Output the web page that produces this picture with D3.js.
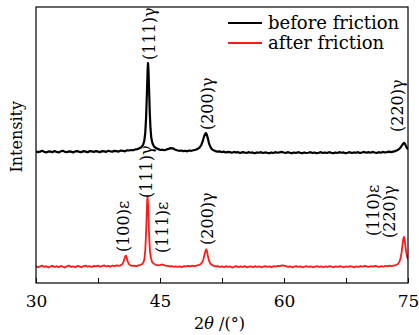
<!DOCTYPE html>
<html>
<head>
<meta charset="utf-8">
<script src="https://cdn.jsdelivr.net/npm/d3@7"></script>
<style>
  body { margin: 0; background: #fff; }
  text { font-family: "DejaVu Serif", serif; fill: #000; }
</style>
</head>
<body>
<div id="xrd-chart"></div>
<script>
// XRD patterns, [2theta, intensity (a.u., stacked)]
const beforeFriction = [
  [30.00, 477], [30.25, 474], [30.50, 476], [30.75, 479], [31.00, 475], [31.25, 473], [31.50, 477], [31.75, 476],
  [32.00, 474], [32.25, 478], [32.50, 475], [32.75, 473], [33.00, 477], [33.25, 479], [33.50, 475], [33.75, 474],
  [34.00, 477], [34.25, 476], [34.50, 473], [34.75, 477], [35.00, 478], [35.25, 475], [35.50, 474], [35.75, 478],
  [36.00, 476], [36.25, 474], [36.50, 478], [36.75, 477], [37.00, 475], [37.25, 478], [37.50, 476], [37.75, 474],
  [38.00, 478], [38.25, 477], [38.50, 475], [38.75, 479], [39.00, 477], [39.25, 476], [39.50, 479], [39.75, 478],
  [40.00, 476], [40.25, 480], [40.50, 479], [40.75, 477], [41.00, 481], [41.25, 480], [41.50, 482], [41.75, 481],
  [42.00, 484], [42.25, 485], [42.50, 488], [42.75, 492], [42.95, 500], [43.10, 515], [43.22, 545], [43.32, 600],
  [43.42, 690], [43.50, 770], [43.55, 797], [43.60, 775], [43.68, 700], [43.76, 620], [43.85, 560], [43.95, 525],
  [44.10, 505], [44.30, 494], [44.55, 488], [44.80, 485], [45.05, 482], [45.30, 483], [45.55, 481], [45.80, 484],
  [46.05, 486], [46.30, 489], [46.55, 488], [46.80, 484], [47.05, 481], [47.30, 479], [47.55, 480], [47.80, 478],
  [48.05, 479], [48.30, 477], [48.55, 480], [48.80, 479], [49.05, 481], [49.30, 483], [49.55, 486], [49.80, 491],
  [50.00, 500], [50.15, 512], [50.30, 528], [50.45, 540], [50.55, 543], [50.65, 539], [50.78, 525], [50.92, 507],
  [51.08, 494], [51.25, 486], [51.45, 481], [51.70, 478], [51.95, 476], [52.20, 477], [52.45, 474], [52.70, 476],
  [52.95, 473], [53.20, 475], [53.45, 474], [53.70, 472], [53.95, 475], [54.20, 473], [54.45, 474], [54.70, 471],
  [54.95, 474], [55.20, 473], [55.45, 471], [55.70, 474], [55.95, 472], [56.20, 473], [56.45, 470], [56.70, 473],
  [56.95, 472], [57.20, 474], [57.45, 471], [57.70, 473], [57.95, 472], [58.20, 470], [58.45, 473], [58.70, 471],
  [58.95, 474], [59.20, 472], [59.45, 473], [59.70, 475], [59.95, 473], [60.20, 471], [60.45, 474], [60.70, 472],
  [60.95, 470], [61.20, 473], [61.45, 471], [61.70, 474], [61.95, 472], [62.20, 470], [62.45, 473], [62.70, 471],
  [62.95, 472], [63.20, 474], [63.45, 471], [63.70, 473], [63.95, 470], [64.20, 472], [64.45, 474], [64.70, 471],
  [64.95, 473], [65.20, 471], [65.45, 474], [65.70, 472], [65.95, 470], [66.20, 473], [66.45, 471], [66.70, 474],
  [66.95, 472], [67.20, 473], [67.45, 470], [67.70, 472], [67.95, 474], [68.20, 471], [68.45, 473], [68.70, 472],
  [68.95, 474], [69.20, 471], [69.45, 473], [69.70, 475], [69.95, 472], [70.20, 474], [70.45, 472], [70.70, 475],
  [70.95, 473], [71.20, 471], [71.45, 474], [71.70, 472], [71.95, 475], [72.20, 473], [72.45, 474], [72.70, 476],
  [72.95, 474], [73.20, 476], [73.45, 478], [73.70, 481], [73.95, 486], [74.15, 493], [74.30, 500], [74.45, 506],
  [74.55, 508], [74.65, 503], [74.78, 494], [74.90, 488], [75.00, 485]
];

const afterFriction = [
  [30.00, 61], [30.25, 57], [30.50, 60], [30.75, 63], [31.00, 58], [31.25, 61], [31.50, 56], [31.75, 60],
  [32.00, 62], [32.25, 58], [32.50, 61], [32.75, 57], [33.00, 62], [33.25, 59], [33.50, 56], [33.75, 61],
  [34.00, 63], [34.25, 58], [34.50, 60], [34.75, 57], [35.00, 62], [35.25, 60], [35.50, 57], [35.75, 61],
  [36.00, 63], [36.25, 59], [36.50, 61], [36.75, 58], [37.00, 62], [37.25, 60], [37.50, 63], [37.75, 59],
  [38.00, 61], [38.25, 64], [38.50, 60], [38.75, 62], [39.00, 59], [39.25, 63], [39.50, 61], [39.75, 64],
  [40.00, 62], [40.20, 64], [40.40, 67], [40.55, 74], [40.68, 86], [40.80, 97], [40.88, 99], [40.97, 92],
  [41.08, 79], [41.22, 69], [41.40, 64], [41.65, 62], [41.90, 63], [42.15, 61], [42.40, 64], [42.65, 66],
  [42.85, 69], [43.00, 75], [43.12, 88], [43.22, 120], [43.30, 170], [43.38, 240], [43.45, 300], [43.50, 312],
  [43.56, 285], [43.63, 220], [43.71, 155], [43.80, 112], [43.92, 88], [44.05, 76], [44.25, 70], [44.50, 66],
  [44.75, 64], [45.00, 65], [45.20, 67], [45.40, 66], [45.65, 63], [45.90, 62], [46.15, 60], [46.40, 61],
  [46.65, 59], [46.90, 60], [47.15, 58], [47.40, 60], [47.65, 57], [47.90, 61], [48.15, 60], [48.40, 62],
  [48.65, 60], [48.90, 63], [49.15, 61], [49.40, 63], [49.65, 65], [49.90, 68], [50.10, 75], [50.25, 86],
  [50.40, 104], [50.52, 118], [50.60, 122], [50.68, 116], [50.78, 100], [50.90, 84], [51.05, 72], [51.25, 66],
  [51.50, 62], [51.75, 60], [52.00, 61], [52.25, 58], [52.50, 60], [52.75, 57], [53.00, 61], [53.25, 58],
  [53.50, 60], [53.75, 56], [54.00, 59], [54.25, 61], [54.50, 57], [54.75, 60], [55.00, 58], [55.25, 61],
  [55.50, 57], [55.75, 59], [56.00, 60], [56.25, 57], [56.50, 61], [56.75, 58], [57.00, 60], [57.25, 57],
  [57.50, 59], [57.75, 61], [58.00, 58], [58.25, 60], [58.50, 57], [58.75, 61], [59.00, 59], [59.25, 62],
  [59.50, 61], [59.75, 64], [60.00, 63], [60.25, 61], [60.50, 58], [60.75, 60], [61.00, 57], [61.25, 59],
  [61.50, 61], [61.75, 58], [62.00, 60], [62.25, 57], [62.50, 59], [62.75, 61], [63.00, 58], [63.25, 60],
  [63.50, 57], [63.75, 59], [64.00, 61], [64.25, 58], [64.50, 60], [64.75, 57], [65.00, 60], [65.25, 58],
  [65.50, 61], [65.75, 59], [66.00, 57], [66.25, 60], [66.50, 58], [66.75, 61], [67.00, 59], [67.25, 57],
  [67.50, 60], [67.75, 58], [68.00, 61], [68.25, 59], [68.50, 57], [68.75, 60], [69.00, 58], [69.25, 61],
  [69.50, 59], [69.75, 62], [70.00, 60], [70.25, 58], [70.50, 61], [70.75, 59], [71.00, 62], [71.25, 60],
  [71.50, 58], [71.75, 61], [72.00, 59], [72.25, 62], [72.50, 60], [72.75, 63], [73.00, 61], [73.25, 63],
  [73.50, 65], [73.75, 68], [73.95, 76], [74.10, 90], [74.22, 110], [74.32, 135], [74.42, 158], [74.50, 167],
  [74.58, 160], [74.68, 135], [74.80, 108], [74.92, 92], [75.00, 86]
];

// peak labels: [text, 2theta, intensity at label foot]
const beforePeaks = [
  ["(111)\u03b3", 43.67, 808],
  ["(200)\u03b3", 50.69, 554],
  ["(220)\u03b3", 73.67, 547]
];
const afterPeaks = [
  ["(100)\u03b5", 40.52, 112],
  ["(111)\u03b3", 43.31, 308],
  ["(111)\u03b5", 45.24, 109],
  ["(200)\u03b3", 50.69, 138],
  ["(110)\u03b5", 70.77, 170],
  ["(220)\u03b3", 72.70, 163]
];

const seriesNames = ["before friction", "after friction"];
const seriesColors = ["#000000", "#ff1a1a"];
const majorTicks = [30, 45, 60, 75];
const minorTicks = [37.5, 52.5, 67.5];

(() => {
    const width = 419;
    const height = 335;
    const margin = { top: 7, right: 11, bottom: 52, left: 36 };

    const svg = d3.select("#xrd-chart")
        .append("svg")
        .attr("width", width)
        .attr("height", height);

    const x = d3.scaleLinear().domain([30, 75]).range([margin.left, width - margin.right]);
    const y = d3.scaleLinear().domain([0, 1000]).range([height - margin.bottom, margin.top]);

    svg.append("clipPath").attr("id", "plot-clip")
        .append("rect")
        .attr("x", margin.left)
        .attr("y", margin.top)
        .attr("width", width - margin.left - margin.right)
        .attr("height", height - margin.top - margin.bottom);

    const line = d3.line()
        .x(d => x(d[0]))
        .y(d => y(d[1]));

    [beforeFriction, afterFriction].forEach((data, i) => {
        svg.append("path")
            .datum(data)
            .attr("clip-path", "url(#plot-clip)")
            .attr("fill", "none")
            .attr("stroke", seriesColors[i])
            .attr("stroke-width", i === 0 ? 2.2 : 1.8)
            .attr("stroke-linejoin", "round")
            .attr("d", line);
    });

    // bottom axis, ticks pointing inward
    const yBase = y(0);
    svg.append("g")
        .attr("transform", `translate(0, ${yBase})`)
        .call(d3.axisBottom(x).tickValues(majorTicks).tickSize(-5).tickPadding(12).tickFormat(d3.format("d")))
        .call(g => g.select(".domain").remove())
        .call(g => g.selectAll("text")
            .style("font-family", "DejaVu Serif")
            .style("font-size", "17px"));

    svg.append("g")
        .attr("transform", `translate(0, ${yBase})`)
        .call(d3.axisBottom(x).tickValues(minorTicks).tickSize(-5).tickFormat(""))
        .call(g => g.select(".domain").remove());

    // frame
    svg.append("rect")
        .attr("x", margin.left)
        .attr("y", margin.top)
        .attr("width", width - margin.left - margin.right)
        .attr("height", height - margin.top - margin.bottom)
        .attr("fill", "none")
        .attr("stroke", "#000")
        .attr("stroke-width", 1.2);

    // peak labels
    [beforePeaks, afterPeaks].forEach(peaks => {
        peaks.forEach(p => {
            svg.append("text")
                .attr("transform", `translate(${x(p[1])}, ${y(p[2])}) rotate(-90)`)
                .attr("dy", "0.35em")
                .attr("text-anchor", "start")
                .style("font-size", "16px")
                .text(p[0]);
        });
    });

    // axis titles
    const title = svg.append("text")
        .attr("x", x(52.2))
        .attr("y", height - 6)
        .attr("text-anchor", "middle")
        .style("font-size", "16px");
    title.append("tspan").text("2");
    title.append("tspan").style("font-style", "italic").text("\u03b8");
    title.append("tspan").text(" /(\u00b0)");

    svg.append("text")
        .attr("transform", `translate(22, ${y(530)}) rotate(-90)`)
        .attr("text-anchor", "middle")
        .style("font-size", "16px")
        .text("Intensity");

    // legend
    const legend = svg.append("g").attr("transform", "translate(228, 23)");
    seriesNames.forEach((name, i) => {
        legend.append("line")
            .attr("x1", 0).attr("x2", 34)
            .attr("y1", i * 20).attr("y2", i * 20)
            .attr("stroke", seriesColors[i])
            .attr("stroke-width", 1.8);
        legend.append("text")
            .attr("x", 40)
            .attr("y", i * 20)
            .attr("dy", "0.32em")
            .style("font-size", "18px")
            .text(name);
    });
})();
</script>
</body>
</html>
